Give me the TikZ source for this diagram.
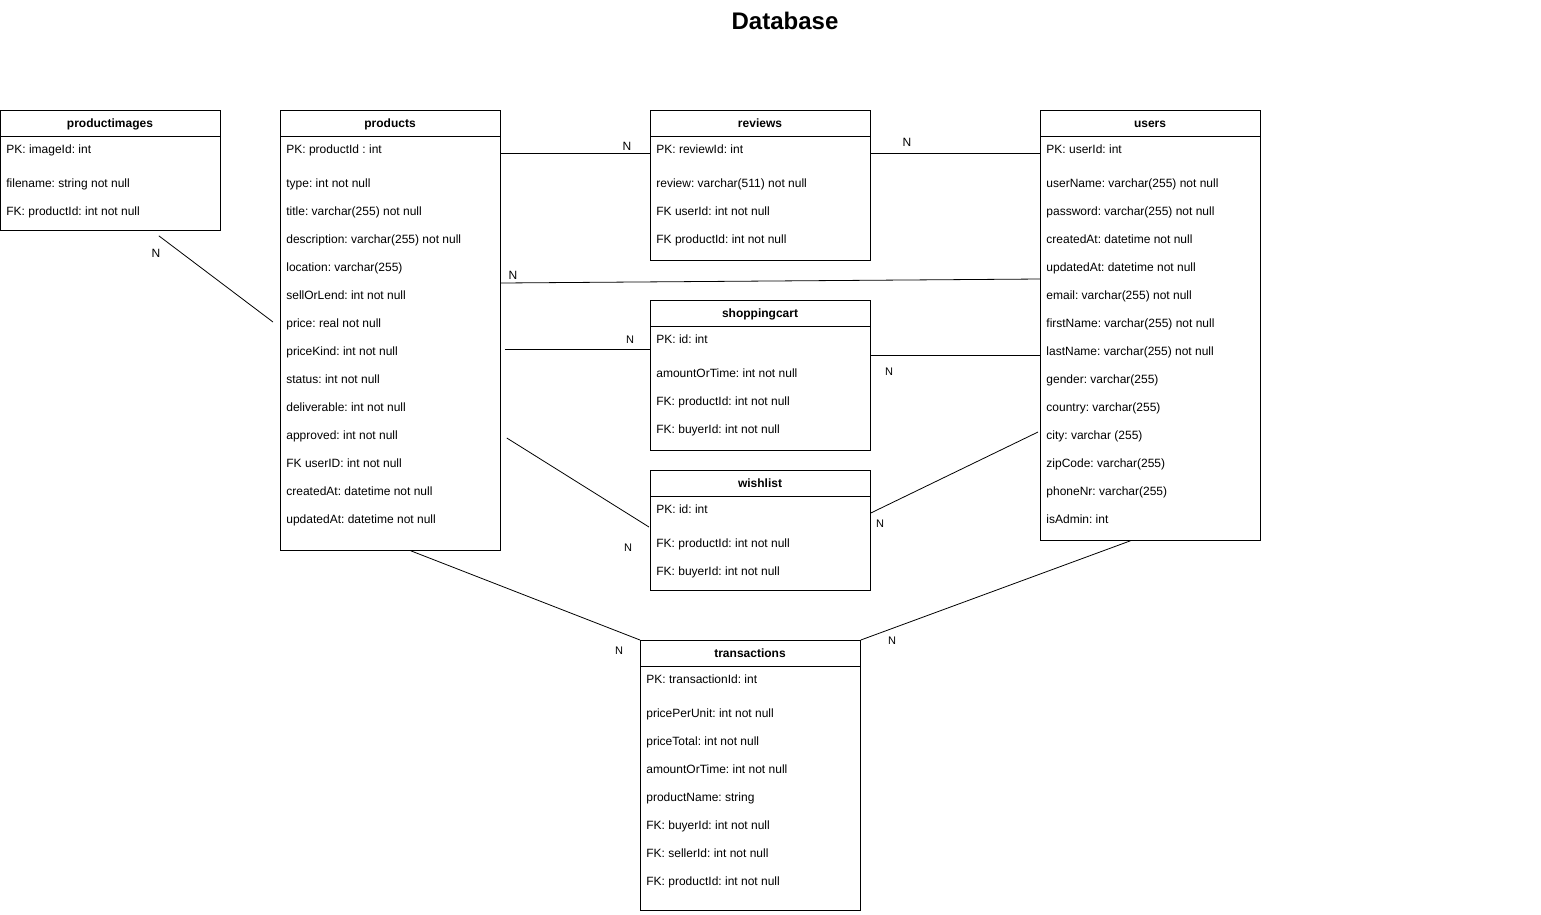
\documentclass[tikz,border=0pt]{standalone}
\usepackage{fontspec}
\setmainfont{Liberation Sans}
\frenchspacing
\begin{document}
\begin{tikzpicture}[x=1pt,y=-1pt,line width=0.8pt,
  table/.style={draw=black, rectangle, anchor=north west, inner sep=0pt},
  header/.style={font=\bfseries\fontsize{12}{14}\selectfont, inner sep=0pt, text height=8pt, text depth=0pt},
  field/.style={anchor=west, inner sep=0pt, text height=8pt, text depth=0pt, font=\fontsize{12}{14}\selectfont},
  card/.style={font=\fontsize{12}{14}\selectfont, inner sep=0pt, text height=8pt, text depth=0pt},
  smallcard/.style={font=\fontsize{11}{13}\selectfont, inner sep=0pt, text height=8pt, text depth=0pt}]
\useasboundingbox (0,0) rectangle (1541,914);
\node [font=\bfseries\fontsize{24}{28}\selectfont] (title) at (785,21) {Database};
\node [table, minimum width=220, minimum height=120] (productimages) at (0,110) {};
\draw ([yshift=-26pt]productimages.north west) -- ([yshift=-26pt]productimages.north east);
\node [header] at (110,123) {productimages};
\node [field] at (6,149) {PK: imageId: int};
\node [field] at (6,183) {filename: string not null};
\node [field] at (6,211) {FK: productId: int not null};
\node [table, minimum width=220, minimum height=440] (products) at (280,110) {};
\draw ([yshift=-26pt]products.north west) -- ([yshift=-26pt]products.north east);
\node [header] at (390,123) {products};
\node [field] at (286,149) {PK: productId : int};
\node [field] at (286,183) {type: int not null};
\node [field] at (286,211) {title: varchar(255) not null};
\node [field] at (286,239) {description: varchar(255) not null};
\node [field] at (286,267) {location: varchar(255)};
\node [field] at (286,295) {sellOrLend: int not null};
\node [field] at (286,323) {price: real not null};
\node [field] at (286,351) {priceKind: int not null};
\node [field] at (286,379) {status: int not null};
\node [field] at (286,407) {deliverable: int not null};
\node [field] at (286,435) {approved: int not null};
\node [field] at (286,463) {FK userID: int not null};
\node [field] at (286,491) {createdAt: datetime not null};
\node [field] at (286,519) {updatedAt: datetime not null};
\node [table, minimum width=220, minimum height=150] (reviews) at (650,110) {};
\draw ([yshift=-26pt]reviews.north west) -- ([yshift=-26pt]reviews.north east);
\node [header] at (760,123) {reviews};
\node [field] at (656,149) {PK: reviewId: int};
\node [field] at (656,183) {review: varchar(511) not null};
\node [field] at (656,211) {FK userId: int not null};
\node [field] at (656,239) {FK productId: int not null};
\node [table, minimum width=220, minimum height=150] (shoppingcart) at (650,300) {};
\draw ([yshift=-26pt]shoppingcart.north west) -- ([yshift=-26pt]shoppingcart.north east);
\node [header] at (760,313) {shoppingcart};
\node [field] at (656,339) {PK: id: int};
\node [field] at (656,373) {amountOrTime: int not null};
\node [field] at (656,401) {FK: productId: int not null};
\node [field] at (656,429) {FK: buyerId: int not null};
\node [table, minimum width=220, minimum height=120] (wishlist) at (650,470) {};
\draw ([yshift=-26pt]wishlist.north west) -- ([yshift=-26pt]wishlist.north east);
\node [header] at (760,483) {wishlist};
\node [field] at (656,509) {PK: id: int};
\node [field] at (656,543) {FK: productId: int not null};
\node [field] at (656,571) {FK: buyerId: int not null};
\node [table, minimum width=220, minimum height=430] (users) at (1040,110) {};
\draw ([yshift=-26pt]users.north west) -- ([yshift=-26pt]users.north east);
\node [header] at (1150,123) {users};
\node [field] at (1046,149) {PK: userId: int};
\node [field] at (1046,183) {userName: varchar(255) not null};
\node [field] at (1046,211) {password: varchar(255) not null};
\node [field] at (1046,239) {createdAt: datetime not null};
\node [field] at (1046,267) {updatedAt: datetime not null};
\node [field] at (1046,295) {email: varchar(255) not null};
\node [field] at (1046,323) {firstName: varchar(255) not null};
\node [field] at (1046,351) {lastName: varchar(255) not null};
\node [field] at (1046,379) {gender: varchar(255)};
\node [field] at (1046,407) {country: varchar(255)};
\node [field] at (1046,435) {city: varchar (255)};
\node [field] at (1046,463) {zipCode: varchar(255)};
\node [field] at (1046,491) {phoneNr: varchar(255)};
\node [field] at (1046,519) {isAdmin: int};
\node [table, minimum width=220, minimum height=270] (transactions) at (640,640) {};
\draw ([yshift=-26pt]transactions.north west) -- ([yshift=-26pt]transactions.north east);
\node [header] at (750,653) {transactions};
\node [field] at (646,679) {PK: transactionId: int};
\node [field] at (646,713) {pricePerUnit: int not null};
\node [field] at (646,741) {priceTotal: int not null};
\node [field] at (646,769) {amountOrTime: int not null};
\node [field] at (646,797) {productName: string};
\node [field] at (646,825) {FK: buyerId: int not null};
\node [field] at (646,853) {FK: sellerId: int not null};
\node [field] at (646,881) {FK: productId: int not null};
\draw ([yshift=-43pt]products.north east) -- ([yshift=-43pt]reviews.north west);
\draw ([yshift=-43pt]reviews.north east) -- ([yshift=-43pt]users.north west);
\draw ([yshift=-173pt]products.north east) -- ([yshift=-169pt]users.north west);
\draw ([xshift=4pt,yshift=-239pt]products.north east) -- ([yshift=-49pt]shoppingcart.north west);
\draw ([yshift=-55pt]shoppingcart.north east) -- ([yshift=-245pt]users.north west);
\draw ([xshift=6pt,yshift=-328pt]products.north east) -- ([xshift=-1pt,yshift=-57pt]wishlist.north west);
\draw ([yshift=-43pt]wishlist.north east) -- ([xshift=-2pt,yshift=-322pt]users.north west);
\draw ([xshift=-90pt]products.south east) -- (transactions.north west);
\draw ([xshift=-20pt]users.south) -- (transactions.north east);
\draw ([xshift=-62pt,yshift=-5pt]productimages.south east) -- ([xshift=-7pt,yshift=-212pt]products.north west);
\node [card] (n1) at (627,146) {N};
\node [card] (n2) at (907,142) {N};
\node [card] (n3) at (513,275) {N};
\node [smallcard] (n4) at (630,339) {N};
\node [smallcard] (n5) at (889,371) {N};
\node [smallcard] (n6) at (628,547) {N};
\node [smallcard] (n7) at (880,523) {N};
\node [smallcard] (n8) at (619,650) {N};
\node [smallcard] (n9) at (892,640) {N};
\node [card] (n10) at (156,253) {N};
\end{tikzpicture}
\end{document}
